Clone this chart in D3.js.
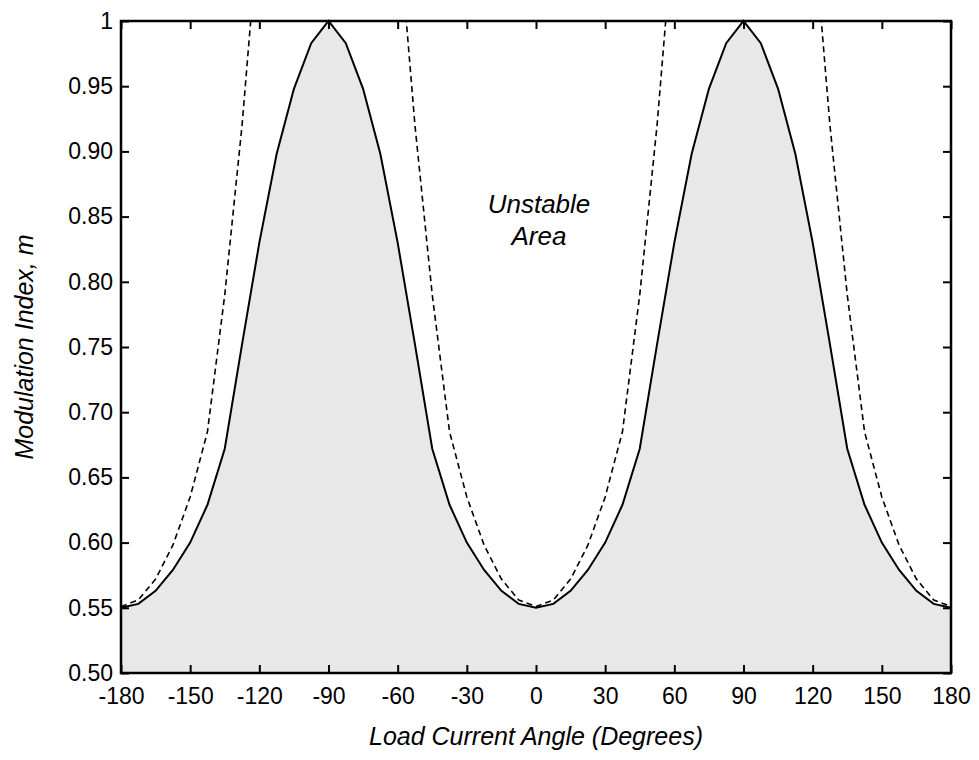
<!DOCTYPE html>
<html>
<head>
<meta charset="utf-8">
<script src="https://cdn.jsdelivr.net/npm/d3@7"></script>
<style>
  body { margin: 0; background: #fff; }
  text { font-family: "Liberation Sans", Arial, sans-serif; fill: #000; }
</style>
</head>
<body>
<div id="chart"></div>
<script>
// Chart values
var angles = [-180, -172.5, -165, -157.5, -150, -142.5, -135, -127.5, -120, -112.5, -105, -97.5,
              -90, -82.5, -75, -67.5, -60, -52.5, -45, -37.5, -30, -22.5, -15, -7.5,
              0, 7.5, 15, 22.5, 30, 37.5, 45, 52.5, 60, 67.5, 75, 82.5,
              90, 97.5, 105, 112.5, 120, 127.5, 135, 142.5, 150, 157.5, 165, 172.5, 180];

// solid boundary (shaded stable area below it)
var solidM = [0.550, 0.553, 0.563, 0.579, 0.600, 0.629, 0.672, 0.752, 0.830, 0.898, 0.948, 0.983,
              1.000, 0.983, 0.948, 0.898, 0.830, 0.752, 0.672, 0.629, 0.600, 0.579, 0.563, 0.553,
              0.550, 0.553, 0.563, 0.579, 0.600, 0.629, 0.672, 0.752, 0.830, 0.898, 0.948, 0.983,
              1.000, 0.983, 0.948, 0.898, 0.830, 0.752, 0.672, 0.629, 0.600, 0.579, 0.563, 0.553, 0.550];

// dashed boundary (runs off the top of the plot, null where unreadable)
var dashedM = [0.551, 0.556, 0.572, 0.598, 0.635, 0.685, 0.790, 0.920, 1.080, null, null, null,
               null, null, null, null, 1.080, 0.920, 0.790, 0.685, 0.635, 0.598, 0.572, 0.556,
               0.551, 0.556, 0.572, 0.598, 0.635, 0.685, 0.790, 0.920, 1.080, null, null, null,
               null, null, null, null, 1.080, 0.920, 0.790, 0.685, 0.635, 0.598, 0.572, 0.556, 0.551];

var xTicks = [-180, -150, -120, -90, -60, -30, 0, 30, 60, 90, 120, 150, 180];
var xTickLabels = ["-180", "-150", "-120", "-90", "-60", "-30", "0", "30", "60", "90", "120", "150", "180"];
var yTicks = [0.50, 0.55, 0.60, 0.65, 0.70, 0.75, 0.80, 0.85, 0.90, 0.95, 1.00];
var yTickLabels = ["0.50", "0.55", "0.60", "0.65", "0.70", "0.75", "0.80", "0.85", "0.90", "0.95", "1"];

var width = 979;
var height = 760;
var margin = {top: 21, right: 28, bottom: 87, left: 121};
var w = width - margin.left - margin.right;
var h = height - margin.top - margin.bottom;

var svg = d3.select("#chart").append("svg")
    .attr("width", width)
    .attr("height", height);

var g = svg.append("g")
    .attr("transform", "translate(" + margin.left + "," + margin.top + ")");

var x = d3.scaleLinear().domain([-180, 180]).range([0, w]);
var y = d3.scaleLinear().domain([0.5, 1]).range([h, 0]);

var pts = angles.map(function(a, i) {
    return {a: a, s: solidM[i], d: dashedM[i]};
});

// clip for the dashed curve
svg.append("defs").append("clipPath").attr("id", "plotClip")
    .append("rect").attr("x", 0).attr("y", 0).attr("width", w).attr("height", h);

// shaded stable area
g.append("path")
    .datum(pts)
    .attr("fill", "#e8e8e8")
    .attr("d", d3.area()
        .x(function(d) { return x(d.a); })
        .y0(h)
        .y1(function(d) { return y(d.s); }));

// dashed curve
g.append("path")
    .datum(pts)
    .attr("clip-path", "url(#plotClip)")
    .attr("fill", "none")
    .attr("stroke", "#000")
    .attr("stroke-width", 1.6)
    .attr("stroke-dasharray", "6,4")
    .attr("d", d3.line()
        .defined(function(d) { return d.d !== null; })
        .x(function(d) { return x(d.a); })
        .y(function(d) { return y(d.d); }));

// solid curve
g.append("path")
    .datum(pts)
    .attr("fill", "none")
    .attr("stroke", "#000")
    .attr("stroke-width", 2)
    .attr("d", d3.line()
        .x(function(d) { return x(d.a); })
        .y(function(d) { return y(d.s); }));

// axes with inward ticks
var xAxis = g.append("g")
    .attr("transform", "translate(0," + h + ")")
    .call(d3.axisBottom(x).tickValues(xTicks).tickSizeInner(-8).tickSizeOuter(0).tickPadding(15)
        .tickFormat(function(d, i) { return xTickLabels[i]; }));
var xTop = g.append("g")
    .call(d3.axisTop(x).tickValues(xTicks).tickSizeInner(-8).tickSizeOuter(0).tickFormat(""));
var yAxis = g.append("g")
    .call(d3.axisLeft(y).tickValues(yTicks).tickSizeInner(-8).tickSizeOuter(0).tickPadding(8)
        .tickFormat(function(d, i) { return yTickLabels[i]; }));
var yRight = g.append("g")
    .attr("transform", "translate(" + w + ",0)")
    .call(d3.axisRight(y).tickValues(yTicks).tickSizeInner(-8).tickSizeOuter(0).tickFormat(""));

[xAxis, xTop, yAxis, yRight].forEach(function(ax) {
    ax.select(".domain").remove();
    ax.selectAll(".tick line").attr("stroke", "#000").attr("stroke-width", 2);
    ax.selectAll(".tick text")
        .style("font-family", "'Liberation Sans', Arial, sans-serif")
        .style("font-size", "23px")
        .attr("fill", "#000");
});

// frame
g.append("rect")
    .attr("x", 0).attr("y", 0)
    .attr("width", w).attr("height", h)
    .attr("fill", "none")
    .attr("stroke", "#000")
    .attr("stroke-width", 2.5);

// axis titles
svg.append("text")
    .attr("x", margin.left + w / 2)
    .attr("y", 745)
    .attr("text-anchor", "middle")
    .style("font-size", "25px")
    .style("font-style", "italic")
    .text("Load Current Angle (Degrees)");

svg.append("text")
    .attr("transform", "translate(33," + (margin.top + h / 2) + ") rotate(-90)")
    .attr("text-anchor", "middle")
    .style("font-size", "25px")
    .style("font-style", "italic")
    .text("Modulation Index, m");

// annotation
var note = svg.append("text")
    .attr("text-anchor", "middle")
    .style("font-size", "26px")
    .style("font-style", "italic");
note.append("tspan").attr("x", 539).attr("y", 213).text("Unstable");
note.append("tspan").attr("x", 539).attr("y", 245).text("Area");
</script>
</body>
</html>
